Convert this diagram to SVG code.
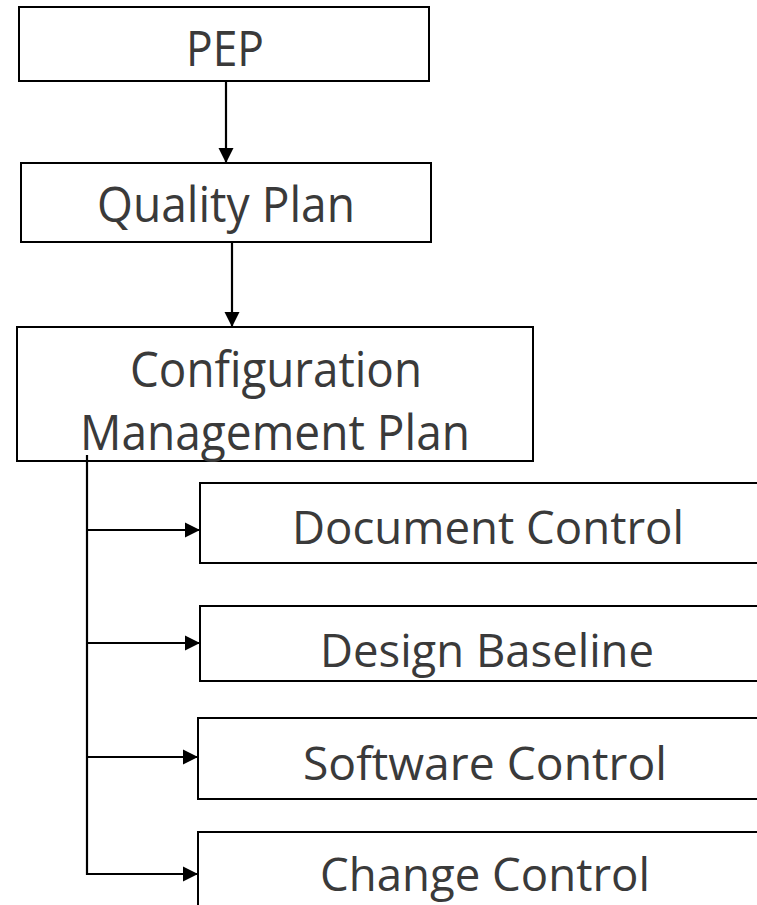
<svg xmlns="http://www.w3.org/2000/svg" width="757" height="905" viewBox="0 0 757 905">
  <style>
    .box { fill: #ffffff; stroke: #000000; stroke-width: 2; }
    .lbl { font-family: "Open Sans", "Noto Sans", "Liberation Sans", sans-serif; fill: #3a3a3a; text-anchor: middle; }
    .big { font-size: 49px; }
    .mid { font-size: 45px; }
    .wire { fill: none; stroke: #000000; stroke-width: 2.2; }
  </style>
  <defs>
    <marker id="arrow" markerUnits="userSpaceOnUse" markerWidth="16" markerHeight="16" viewBox="0 0 16 16" refX="15" refY="8" orient="auto">
      <path d="M0,0.5 L15,8 L0,15.5 Z" fill="#000000"/>
    </marker>
  </defs>

  <rect width="757" height="905" fill="#ffffff"/>

  <!-- nodes -->
  <g id="pep">
    <rect class="box" x="19" y="7" width="410" height="74"/>
    <text class="lbl big" x="225" y="66" textLength="78" lengthAdjust="spacingAndGlyphs">PEP</text>
  </g>
  <g id="quality-plan">
    <rect class="box" x="21" y="163" width="410" height="79"/>
    <text class="lbl big" x="226" y="222" textLength="258" lengthAdjust="spacingAndGlyphs">Quality Plan</text>
  </g>
  <g id="cm-plan">
    <rect class="box" x="17" y="327" width="516" height="134"/>
    <text class="lbl big" x="276" y="387" textLength="292" lengthAdjust="spacingAndGlyphs">Configuration</text>
    <text class="lbl big" x="275" y="450" textLength="390" lengthAdjust="spacingAndGlyphs">Management Plan</text>
  </g>
  <g id="document-control">
    <rect class="box" x="200" y="483" width="620" height="80"/>
    <text class="lbl mid" x="488" y="544" textLength="392" lengthAdjust="spacingAndGlyphs">Document Control</text>
  </g>
  <g id="design-baseline">
    <rect class="box" x="200" y="606" width="620" height="75"/>
    <text class="lbl mid" x="487" y="667" textLength="334" lengthAdjust="spacingAndGlyphs">Design Baseline</text>
  </g>
  <g id="software-control">
    <rect class="box" x="198" y="718" width="620" height="81"/>
    <text class="lbl mid" x="485" y="780" textLength="364" lengthAdjust="spacingAndGlyphs">Software Control</text>
  </g>
  <g id="change-control">
    <rect class="box" x="198" y="832" width="620" height="120"/>
    <text class="lbl mid" x="485" y="891" textLength="330" lengthAdjust="spacingAndGlyphs">Change Control</text>
  </g>

  <!-- connectors -->
  <g id="connectors">
    <line class="wire" x1="226" y1="82" x2="226" y2="163" marker-end="url(#arrow)"/>
    <line class="wire" x1="232" y1="243" x2="232" y2="327" marker-end="url(#arrow)"/>
    <polyline class="wire" points="87,455 87,875"/>
    <line class="wire" x1="86" y1="530" x2="200" y2="530" marker-end="url(#arrow)"/>
    <line class="wire" x1="86" y1="643" x2="200" y2="643" marker-end="url(#arrow)"/>
    <line class="wire" x1="86" y1="757" x2="198" y2="757" marker-end="url(#arrow)"/>
    <line class="wire" x1="86" y1="874" x2="198" y2="874" marker-end="url(#arrow)"/>
  </g>
</svg>
